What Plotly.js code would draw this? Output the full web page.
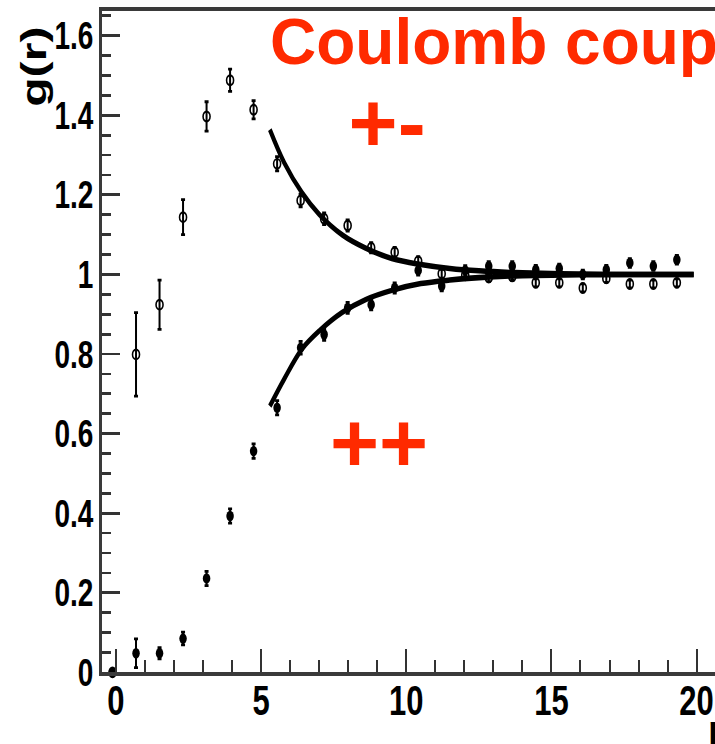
<!DOCTYPE html>
<html>
<head>
<meta charset="utf-8">
<script src="https://cdn.plot.ly/plotly-3.0.1.min.js"></script>
<style>
  html, body { margin: 0; padding: 0; background: #fff; overflow: hidden; width: 715px; height: 744px; }
  #wrap { position: absolute; left: 0; top: 0; width: 715px; height: 540px;
          transform: scaleY(1.37778); transform-origin: 0 0; }
  #chart { width: 715px; height: 540px; }
  #labels { position: absolute; left: 0; top: 0; pointer-events: none; }
</style>
</head>
<body>
<div id="wrap"><div id="chart"></div></div>
<svg id="labels" width="715" height="744">
  <g font-family="Liberation Sans, Arial, Helvetica, sans-serif" font-weight="bold" fill="#ff2a00">
    <text x="270" y="64" font-size="64">Coulomb coup</text>
    <text x="348.6" y="152" font-size="84">+-</text>
    <text x="330" y="472" font-size="84">++</text>
  </g>
</svg>
<script>
// pair distance bins r
const rBins = [-0.12, 0.69, 1.50, 2.31, 3.12, 3.93, 4.74, 5.55, 6.36, 7.17, 7.98, 8.79,
               9.60, 10.41, 11.22, 12.03, 12.84, 13.65, 14.46, 15.27, 16.08, 16.89,
               17.70, 18.51, 19.32];

// g(r) for opposite charges (+-), open circles
const gOpposite = [0, 0.799, 0.924, 1.144, 1.397, 1.488, 1.414, 1.278, 1.186, 1.140,
                   1.123, 1.067, 1.056, 1.033, 1.002, 0.998, 0.992, 0.995, 0.979,
                   0.979, 0.966, 0.990, 0.976, 0.976, 0.979];
const errOpposite = [0, 0.105, 0.062, 0.044, 0.037, 0.028, 0.023, 0.018, 0.016, 0.015,
                     0.014, 0.013, 0.012, 0.012, 0.011, 0.011, 0.010, 0.010, 0.010,
                     0.010, 0.010, 0.010, 0.010, 0.010, 0.010];

// g(r) for like charges (++), filled circles
const gLike = [0, 0.048, 0.048, 0.085, 0.236, 0.393, 0.556, 0.665, 0.816, 0.849,
               0.916, 0.924, 0.966, 1.010, 0.971, 1.010, 1.021, 1.021, 1.012,
               1.015, 1.000, 1.012, 1.029, 1.021, 1.037];
const errLike = [0, 0.036, 0.014, 0.016, 0.018, 0.018, 0.018, 0.018, 0.016, 0.015,
                 0.014, 0.013, 0.013, 0.012, 0.012, 0.012, 0.011, 0.011, 0.011,
                 0.011, 0.011, 0.011, 0.011, 0.011, 0.011];

// fitted curves
const fitR = [5.3, 5.8, 6.4, 7.0, 7.8, 8.6, 9.5, 10.5, 11.5, 12.5, 14.0, 16.0, 18.0, 19.9];
const fitOpposite = [1.364, 1.280, 1.206, 1.151, 1.099, 1.066, 1.040, 1.025, 1.015,
                     1.009, 1.004, 1.001, 1.000, 1.000];
const fitLike = [0.669, 0.738, 0.812, 0.858, 0.905, 0.937, 0.960, 0.977, 0.986,
                 0.992, 0.997, 0.999, 1.000, 1.000];

// axis ticks
const xTickVals = [0, 5, 10, 15, 20];
const xTickText = ['0', '5', '10', '15', '20'];
const yTickVals = [0, 0.2, 0.4, 0.6, 0.8, 1.0, 1.2, 1.4, 1.6];
const yTickText = ['0', '0.2', '0.4', '0.6', '0.8', '1', '1.2', '1.4', '1.6'];

const FONT = 'Liberation Sans, Arial, Helvetica, sans-serif';

const errStyle = { type: 'data', visible: true, color: '#000', thickness: 2, width: 2 };

const traces = [
  {
    x: rBins, y: gOpposite, type: 'scatter', mode: 'markers', cliponaxis: false,
    marker: { symbol: 'circle-open', size: 7, color: '#000', line: { width: 1.6, color: '#000' } },
    error_y: Object.assign({ array: errOpposite }, errStyle)
  },
  {
    x: rBins, y: gLike, type: 'scatter', mode: 'markers', cliponaxis: false,
    marker: { symbol: 'circle', size: 7.5, color: '#000' },
    error_y: Object.assign({ array: errLike }, errStyle)
  },
  {
    x: fitR, y: fitOpposite, type: 'scatter', mode: 'lines',
    line: { color: '#000', width: 4, shape: 'spline', smoothing: 1 }
  },
  {
    x: fitR, y: fitLike, type: 'scatter', mode: 'lines',
    line: { color: '#000', width: 4, shape: 'spline', smoothing: 1 }
  }
];

const layout = {
  width: 715, height: 540,
  margin: { l: 102, r: 0, t: 8, b: 52, pad: 0 },
  paper_bgcolor: '#fff', plot_bgcolor: '#fff',
  showlegend: false,
  xaxis: {
    range: [-0.482, 20.634], showgrid: false, zeroline: false,
    showline: true, linecolor: '#3a3a3a', linewidth: 3, mirror: true,
    ticks: 'inside', ticklen: 17, tickwidth: 2, tickcolor: '#333',
    ticklabelstandoff: -9,
    tickmode: 'array', tickvals: xTickVals, ticktext: xTickText,
    tickfont: { family: FONT, size: 31, color: '#000', weight: 'bold' },
    minor: { tick0: 0, dtick: 1, ticks: 'inside', ticklen: 9, tickwidth: 2, tickcolor: '#333', showgrid: false }
  },
  yaxis: {
    range: [0, 1.662], showgrid: false, zeroline: false,
    showline: true, linecolor: '#3a3a3a', linewidth: 3, mirror: false,
    ticks: 'inside', ticklen: 18, tickwidth: 2, tickcolor: '#333',
    tickmode: 'array', tickvals: yTickVals, ticktext: yTickText,
    tickfont: { family: FONT, size: 28, color: '#000', weight: 'bold' },
    minor: { tick0: 0, dtick: 0.05, ticks: 'inside', ticklen: 9, tickwidth: 2, tickcolor: '#333', showgrid: false }
  },
  annotations: [
    {
      text: 'g(r)', xref: 'paper', yref: 'paper', x: -0.111, y: 0.98,
      xanchor: 'center', yanchor: 'top', textangle: -90, showarrow: false,
      font: { family: FONT, size: 35, color: '#000', weight: 'bold' }
    },
    {
      text: 'r', xref: 'paper', yref: 'paper', x: 0.9853, y: -0.04,
      xanchor: 'left', yanchor: 'top', showarrow: false,
      font: { family: FONT, size: 39, color: '#000', weight: 'bold' }
    }
  ]
};

Plotly.newPlot('chart', traces, layout, { displayModeBar: false, staticPlot: true });
</script>
</body>
</html>
